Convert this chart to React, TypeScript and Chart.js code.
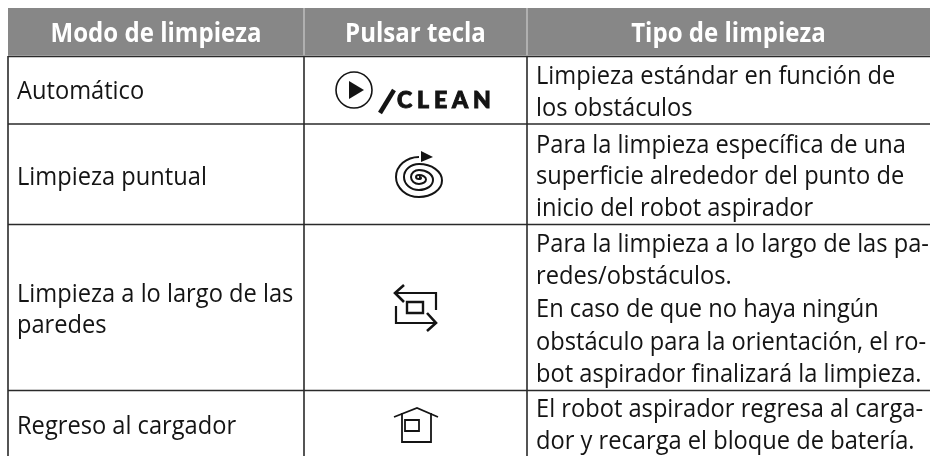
import React, { useEffect, useRef } from "react";
import { Chart, registerables } from "chart.js";

Chart.register(...registerables);

const columnEdges = [8, 304, 527, 930];
const rowEdges = [56.5, 124, 224.5, 390.5];
const headers = ["Modo de limpieza", "Pulsar tecla", "Tipo de limpieza"];
const modes = ["Automático", "Limpieza puntual", ["Limpieza a lo largo de las", "paredes"], "Regreso al cargador"];
const modeBaselines = [[99], [185], [302, 333], [434]];
const descriptions = [
  ["Limpieza estándar en función de", "los obstáculos"],
  ["Para la limpieza específica de una", "superficie alrededor del punto de", "inicio del robot aspirador"],
  ["Para la limpieza a lo largo de las pa-", "redes/obstáculos.", "En caso de que no haya ningún", "obstáculo para la orientación, el ro-", "bot aspirador finalizará la limpieza."],
  ["El robot aspirador regresa al carga-", "dor y recarga el bloque de batería."],
];
const descriptionBaselines = [[83.5, 115.5], [152.5, 184, 216], [252, 284, 317, 350, 382], [417, 449]];

const spiralTops = [157, 164, 170, 175, 177];
const spiralBottoms = [197, 190, 184, 179];
const spiralLefts = [396, 404, 411, 416];
const spiralRights = [442, 433, 426, 421];

const FONT = '"Open Sans"';

export default function App() {
  const ref = useRef<HTMLCanvasElement>(null);
  useEffect(() => {
    const plugin = {
      id: "table",
      beforeDatasetsDraw(chart: any) {
        const { ctx } = chart;
        const X = (v: number) => chart.scales.x.getPixelForValue(v);
        const Y = (v: number) => chart.scales.y.getPixelForValue(v);
        const text = (s: string, x: number, y: number, font: string, color: string, align: "left" | "center", sx = 0.93) => {
          ctx.save();
          ctx.font = font;
          ctx.fillStyle = color;
          ctx.textBaseline = "alphabetic";
          ctx.textAlign = "left";
          const w = ctx.measureText(s).width * sx;
          ctx.translate(X(align === "center" ? x - w / 2 : x), Y(y));
          ctx.scale(sx, 1);
          ctx.fillText(s, 0, 0);
          ctx.restore();
        };
        const poly = (pts: number[][], lw: number, close = false) => {
          ctx.beginPath();
          pts.forEach((p, i) => (i ? ctx.lineTo(X(p[0]), Y(p[1])) : ctx.moveTo(X(p[0]), Y(p[1]))));
          if (close) ctx.closePath();
          ctx.lineWidth = lw;
          ctx.stroke();
        };
        ctx.save();
        ctx.fillStyle = "#ffffff";
        ctx.fillRect(0, 0, 930, 456);
        ctx.fillStyle = "#878787";
        ctx.fillRect(X(columnEdges[0]), Y(8), X(930) - X(columnEdges[0]), Y(55.5) - Y(8));
        ctx.strokeStyle = "#d9d9d9";
        ctx.lineWidth = 1;
        [columnEdges[1], columnEdges[2]].forEach((c) => {
          ctx.beginPath();
          ctx.moveTo(X(c), Y(8));
          ctx.lineTo(X(c), Y(55.5));
          ctx.stroke();
        });
        ctx.strokeStyle = "#2a2a2a";
        ctx.lineWidth = 1.6;
        rowEdges.forEach((r) => {
          ctx.beginPath();
          ctx.moveTo(X(8), Y(r));
          ctx.lineTo(X(930), Y(r));
          ctx.stroke();
        });
        [columnEdges[0], columnEdges[1], columnEdges[2]].forEach((c) => {
          ctx.beginPath();
          ctx.moveTo(X(c), Y(56));
          ctx.lineTo(X(c), Y(456));
          ctx.stroke();
        });
        headers.forEach((h, i) =>
          text(h, (columnEdges[i] + columnEdges[i + 1]) / 2, 41.5, `bold 26px ${FONT}`, "#ffffff", "center", 0.925)
        );
        modes.forEach((m, i) => {
          const lines = Array.isArray(m) ? m : [m];
          lines.forEach((l, j) => text(l, 17, modeBaselines[i][j], `26px ${FONT}`, "#141414", "left", 0.91));
        });
        descriptions.forEach((d, i) =>
          d.forEach((l, j) => text(l, 536, descriptionBaselines[i][j], `26px ${FONT}`, "#141414", "left", 0.91))
        );

        ctx.strokeStyle = "#141414";
        ctx.fillStyle = "#141414";
        ctx.lineCap = "butt";
        // play
        ctx.beginPath();
        ctx.arc(X(354), Y(90), 18, 0, Math.PI * 2);
        ctx.lineWidth = 1.6;
        ctx.stroke();
        ctx.beginPath();
        ctx.moveTo(X(349), Y(81));
        ctx.lineTo(X(364), Y(90));
        ctx.lineTo(X(349), Y(99));
        ctx.closePath();
        ctx.fill();
        poly([[380, 113], [394, 90]], 4.5);
        ctx.save();
        ctx.font = `900 23px Lato`;
        (ctx as any).letterSpacing = "4.9px";
        ctx.textBaseline = "alphabetic";
        ctx.lineWidth = 1;
        ctx.fillText("CLEAN", X(397), Y(108));
        ctx.strokeText("CLEAN", X(397), Y(108));
        ctx.restore();
        // spiral
        const cx = 419;
        ctx.lineWidth = 2;
        ctx.beginPath();
        spiralBottoms.forEach((b, i) => {
          const t = spiralTops[i];
          const t2 = spiralTops[i + 1];
          ctx.ellipse(X(cx), Y((t + b) / 2), cx - spiralLefts[i], (b - t) / 2, 0, -Math.PI / 2, Math.PI / 2, true);
          ctx.ellipse(X(cx), Y((t2 + b) / 2), spiralRights[i] - cx, (b - t2) / 2, 0, Math.PI / 2, -Math.PI / 2, true);
        });
        ctx.stroke();
        ctx.beginPath();
        ctx.moveTo(X(421), Y(151));
        ctx.lineTo(X(433), Y(157));
        ctx.lineTo(X(421), Y(162));
        ctx.closePath();
        ctx.fill();
        // loop
        poly([[404, 285], [395, 293], [404, 302]], 2.6);
        poly([[395, 293], [436, 293], [436, 310]], 2.2);
        poly([[396, 306], [396, 323], [436, 323]], 2.2);
        poly([[427, 313], [436, 323], [427, 331]], 2.6);
        poly([[407, 302], [423, 302], [423, 313], [407, 313]], 2.4, true);
        // house
        poly([[394, 417], [417, 408], [438, 417]], 1.8);
        poly([[402, 413], [402, 442], [431, 442], [431, 413]], 1.8);
        poly([[405, 420], [419, 420], [419, 431], [405, 431]], 1.8, true);
        ctx.restore();
      },
    };
    const chart = new Chart(ref.current!, {
      type: "scatter",
      data: { datasets: [{ data: [] }] },
      options: {
        animation: false,
        responsive: false,
        layout: { padding: 0 },
        plugins: { legend: { display: false }, tooltip: { enabled: false } },
        scales: {
          x: { type: "linear", min: 0, max: 930, display: false },
          y: { type: "linear", min: 0, max: 456, reverse: true, display: false },
        },
      },
      plugins: [plugin],
    });
    return () => chart.destroy();
  }, []);
  return (
    <canvas
      ref={ref}
      width={930}
      height={456}
      style={{ position: "fixed", left: 0, top: 0, width: 930, height: 456 }}
    />
  );
}
